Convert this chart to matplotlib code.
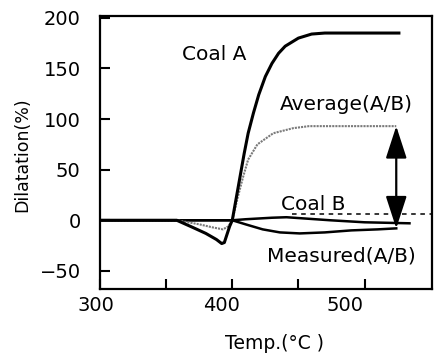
import matplotlib
matplotlib.use("Agg")
import matplotlib.pyplot as plt
import matplotlib.transforms as mtransforms

plt.rcParams["font.family"] = ["DejaVu Sans"]

# 膨張率曲線 (温度 °C, 膨張率 %)
temp_a = [300, 358, 370, 380, 388, 392, 394, 396, 398, 400, 403, 406, 409, 412,
          416, 420, 425, 430, 435, 440, 450, 460, 470, 526]
dil_a = [0, 0, -7, -13, -19, -23, -22, -14, -6, 0, 22, 44, 66, 86,
         106, 124, 142, 155, 165, 172, 180, 184, 185, 185]

temp_avg = [300, 358, 375, 385, 393, 397, 400, 404, 408, 412, 419, 431, 446, 458, 524]
dil_avg = [0, 0, -4, -7, -9, -6, 0, 22, 42, 60, 75, 86, 91, 93, 93]

temp_b = [300, 400, 410, 430, 441, 474, 500, 534]
dil_b = [0, 0, 1, 2.5, 3, 0, -2, -3]

temp_meas = [300, 400, 410, 423, 436, 451, 470, 490, 510, 524]
dil_meas = [0, 0, -4, -9, -12, -13, -12, -10, -9, -8]

temp_ref = [445, 551]
dil_ref = [6, 6]

arrow_temp = 524
arrow_top = 93
arrow_bottom = -8

x_ticks = [300, 350, 400, 450, 500]
x_ticklabels = ["300", "", "400", "", "500"]
y_ticks = [-50, 0, 50, 100, 150, 200]

fig = plt.figure(figsize=(4.35, 3.6), dpi=100)
ax = fig.add_axes([0.230, 0.197, 0.763, 0.759])

ax.plot(temp_b, dil_b, color="black", lw=1.8)
ax.plot(temp_meas, dil_meas, color="black", lw=1.8)
ax.plot(temp_avg, dil_avg, color="#7a7a7a", lw=1.5, linestyle=(0, (1, 0.5)))
ax.plot(temp_a, dil_a, color="black", lw=2.2)
ax.plot(temp_ref, dil_ref, color="black", lw=1.1, linestyle=(0, (3, 3)))

ax.annotate("", xy=(arrow_temp, arrow_top), xytext=(arrow_temp, arrow_bottom),
            arrowprops=dict(arrowstyle="<|-|>,head_length=2.0,head_width=0.65",
                            mutation_scale=10, color="black", lw=1.6,
                            shrinkA=0, shrinkB=0))

ax.text(362, 158, "Coal A", fontsize=14.5, ha="left", va="baseline")
ax.text(436, 109, "Average(A/B)", fontsize=14.5, ha="left", va="baseline")
ax.text(437, 10, "Coal B", fontsize=14.5, ha="left", va="baseline")
ax.text(426.5, -41, "Measured(A/B)", fontsize=14.5, ha="left", va="baseline")

ax.set_xlim(300, 551)
ax.set_ylim(-68, 202)
ax.set_xticks(x_ticks)
ax.set_xticklabels(x_ticklabels)
ax.set_yticks(y_ticks)

ax.tick_params(direction="in", length=7, width=1.5, labelsize=14)
ax.tick_params(axis="y", pad=14)
ax.tick_params(axis="x", pad=5)

# 目盛りラベルを少し左へずらす
shifts = [-3, 0, -8, 0, -14]
for lab, dx in zip(ax.get_xticklabels(), shifts):
    off = mtransforms.ScaledTranslation(dx / 72, 0, fig.dpi_scale_trans)
    lab.set_transform(lab.get_transform() + off)

for sp in ax.spines.values():
    sp.set_linewidth(1.6)

ax.set_xlabel("Temp.(°C )", fontsize=13.5, va="center")
ax.xaxis.set_label_coords(0.527, -0.198)
ax.set_ylabel("Dilatation(%)", fontsize=12.5, va="center")
ax.yaxis.set_label_coords(-0.235, 0.491)

fig.savefig("out.png", dpi=100)
